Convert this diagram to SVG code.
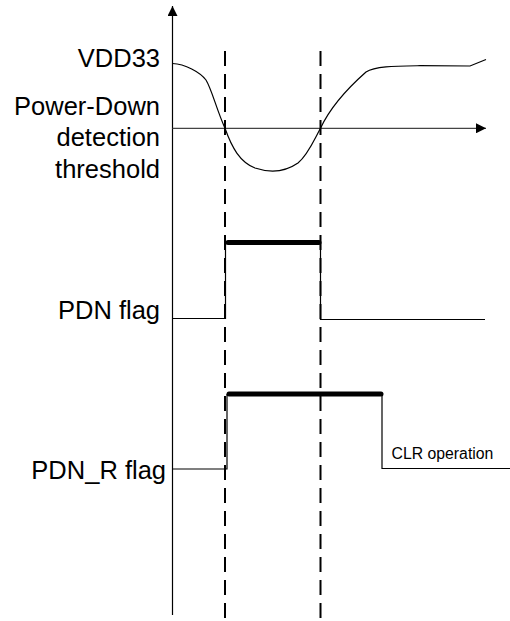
<svg xmlns="http://www.w3.org/2000/svg" width="510" height="621" viewBox="0 0 510 621">
<style>
.lbl{font-family:"Liberation Sans",Arial,sans-serif;font-size:25.5px;fill:#000;text-anchor:end}
.small{font-family:"Liberation Sans",Arial,sans-serif;font-size:15.8px;fill:#000}
.thin{fill:none;stroke:#000;stroke-width:1.2}
.thick{fill:none;stroke:#000;stroke-width:5;stroke-linecap:round}
.dash{fill:none;stroke:#000;stroke-width:2;stroke-dasharray:15 8}
</style>
<defs>
<marker id="arr" viewBox="0 0 10 10" refX="10" refY="5" markerWidth="10" markerHeight="10" markerUnits="userSpaceOnUse" orient="auto">
<path d="M0,0 L10,5 L0,10 Z" fill="#000"/>
</marker>
</defs>
<rect width="510" height="621" fill="#fff"/>
<g id="connectors">
<line x1="172.5" y1="615" x2="172.5" y2="6" class="thin" marker-end="url(#arr)"/>
<line x1="172.5" y1="128.3" x2="486" y2="128.3" fill="none" stroke="#444" stroke-width="1.2" marker-end="url(#arr)"/>
<line x1="225" y1="51" x2="225" y2="620" class="dash"/>
<line x1="320.5" y1="51" x2="320.5" y2="620" class="dash"/>
</g>
<g id="vdd33-label">
<text class="lbl" x="160" y="67">VDD33</text>
</g>
<g id="threshold-label">
<text class="lbl" x="160" y="114.5">Power-Down</text>
<text class="lbl" x="160" y="146">detection</text>
<text class="lbl" x="160" y="177.5">threshold</text>
</g>
<g id="vdd33-curve">
<path class="thin" d="M172.5,63.5 C185,64 200,72 206,80 C212,90 216,108 225,128.3 C232,148 240,162 255,168 C270,173 285,172 298,163 C308,155 314,140 320.5,128.3 C328,112 340,95 366,72 C375,66 395,66 420,65.7 L470,66 L486,59.5"/>
</g>
<g id="pdn-flag-label">
<text class="lbl" x="160" y="318.5">PDN flag</text>
</g>
<g id="pdn-flag">
<path class="thin" d="M172.5,318.5 H225.5 V242.5 M320.5,242.5 V319.5 H485"/>
<line class="thick" x1="228" y1="242.5" x2="319" y2="242.5"/>
</g>
<g id="pdn-r-flag-label">
<text class="lbl" x="166" y="478.5">PDN_R flag</text>
</g>
<g id="pdn-r-flag">
<path class="thin" d="M172.5,469 H227 V394 M382,394 V468.5 H510"/>
<line class="thick" x1="229" y1="394" x2="381" y2="394"/>
</g>
<g id="clr-label">
<text class="small" x="391.5" y="458.5">CLR operation</text>
</g>
</svg>
